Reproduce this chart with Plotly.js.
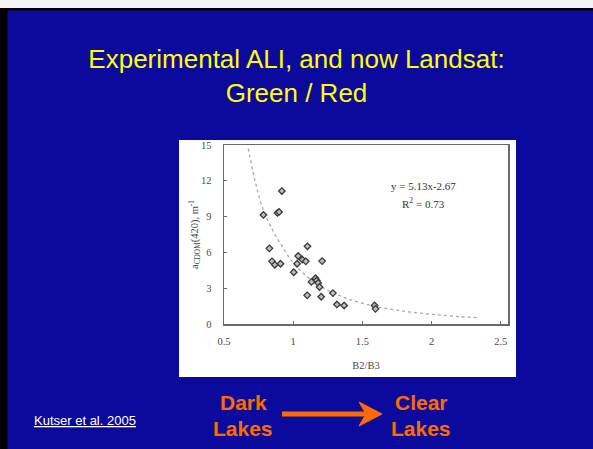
<!DOCTYPE html>
<html>
<head>
<meta charset="utf-8">
<script src="https://cdn.plot.ly/plotly-3.0.1.min.js"></script>
<style>
html,body{margin:0;padding:0;background:#0c0a9c;}
#chart{width:593px;height:449px;}
</style>
</head>
<body>
<div id="chart"></div>
<script>
// Measured data (B2/B3 ratio vs aCDOM(420))
const ratioB2B3 = [0.785, 0.918, 0.886, 0.898, 0.828, 0.847, 0.867, 0.908, 1.004, 1.028, 1.036, 1.067, 1.091, 1.103, 1.209, 1.101, 1.132, 1.161, 1.170, 1.180, 1.190, 1.202, 1.287, 1.316, 1.368, 1.588, 1.595];
const aCDOM = [9.14, 11.14, 9.31, 9.39, 6.34, 5.25, 4.96, 5.05, 4.34, 5.05, 5.70, 5.39, 5.25, 6.51, 5.27, 2.40, 3.53, 3.84, 3.65, 3.44, 3.10, 2.28, 2.59, 1.64, 1.55, 1.55, 1.27];
// Trend curve
const trendX = [0.675, 0.72, 0.78, 0.85, 0.92, 1.0, 1.1, 1.2, 1.3, 1.4, 1.6, 1.8, 2.0, 2.2, 2.33];
const trendY = [14.7, 12.2, 9.7, 7.9, 6.5, 5.13, 3.98, 3.15, 2.55, 2.09, 1.46, 1.07, 0.81, 0.62, 0.54];
const xTicks = [0.5, 1, 1.5, 2, 2.5];
const yTicks = [0, 3, 6, 9, 12, 15];

const W = 593, H = 449;
const L = 224, R = 85, T = 145, B = 125;
const pw = W - L - R, ph = H - T - B;
const X = px => (px - L) / pw;
const Y = py => (H - B - py) / ph;
const orange = '#ff6a00';

const traces = [
  {
    x: trendX, y: trendY, type: 'scatter', mode: 'lines',
    line: {color: '#a8a8a8', width: 1.3, dash: 'dot', shape: 'spline'},
    hoverinfo: 'skip', showlegend: false
  },
  {
    x: ratioB2B3, y: aCDOM, type: 'scatter', mode: 'markers',
    marker: {symbol: 'diamond', size: 5, color: '#bdbdbd', line: {color: '#3a3a3a', width: 1.3}},
    showlegend: false
  }
];

const serif = 'Liberation Serif, Times New Roman, serif';
const sans = 'Liberation Sans, Arial, sans-serif';

function note(text, px, py, font) {
  return {text: text, xref: 'paper', yref: 'paper', x: X(px), y: Y(py),
          xanchor: 'center', yanchor: 'middle', showarrow: false, font: font};
}

const eqFont = {family: serif, size: 11, color: '#333'};
const bigFont = {family: sans, size: 21, color: orange};

const layout = {
  width: W, height: H,
  margin: {l: L, r: R, t: T, b: B, pad: 0},
  paper_bgcolor: '#0c0a9c',
  plot_bgcolor: '#ffffff',
  title: {
    text: 'Experimental ALI, and now Landsat:<br>Green / Red',
    font: {family: sans, size: 26, color: '#ffff00'},
    x: 0.5, xanchor: 'center', xref: 'container',
    y: 1 - 68 / H, yanchor: 'middle', yref: 'container'
  },
  xaxis: {
    range: [0.5, 0.5 + pw / 138.4], tickvals: xTicks, ticktext: xTicks.map(String),
    showgrid: false, zeroline: false, showline: true, mirror: true,
    linecolor: '#6a6a6a', linewidth: 1.5,
    ticks: 'inside', ticklen: 3, tickcolor: '#6a6a6a',
    tickfont: {family: serif, size: 10.5, color: '#4a4a4a'},
    ticklabelstandoff: 7,
    title: {text: 'B2/B3', font: {family: serif, size: 10.5, color: '#4a4a4a'}, standoff: 15}
  },
  yaxis: {
    range: [0, 15], tickvals: yTicks,
    showgrid: false, zeroline: false, showline: true, mirror: true,
    linecolor: '#6a6a6a', linewidth: 1.5,
    ticks: 'inside', ticklen: 3, tickcolor: '#6a6a6a',
    tickfont: {family: serif, size: 10.5, color: '#4a4a4a'},
    ticklabelstandoff: 9,
    title: {text: 'a<sub>CDOM</sub>(420), m<sup>-1</sup>', font: {family: serif, size: 10.5, color: '#4a4a4a'}, standoff: 0}
  },
  shapes: [
    // white picture behind the chart
    {type: 'rect', xref: 'paper', yref: 'paper', layer: 'below',
     x0: X(179), x1: X(516), y0: Y(377), y1: Y(140), fillcolor: '#ffffff', line: {width: 0}},
    // slide frame edges
    {type: 'rect', xref: 'paper', yref: 'paper', layer: 'below',
     x0: X(0), x1: X(W), y0: Y(8), y1: Y(0), fillcolor: '#f4f4f4', line: {width: 0}},
    {type: 'rect', xref: 'paper', yref: 'paper', layer: 'below',
     x0: X(0), x1: X(W), y0: Y(10.5), y1: Y(8), fillcolor: '#000000', line: {width: 0}},
    {type: 'rect', xref: 'paper', yref: 'paper', layer: 'below',
     x0: X(0), x1: X(7.5), y0: Y(H), y1: Y(8), fillcolor: '#000000', line: {width: 0}},
    // arrow
    {type: 'line', xref: 'paper', yref: 'paper',
     x0: X(282), x1: X(366), y0: Y(414), y1: Y(414), line: {color: orange, width: 5}},
    {type: 'path', xref: 'paper', yref: 'paper',
     path: 'M' + X(359) + ',' + Y(402) + ' L' + X(382) + ',' + Y(414) + ' L' + X(359) + ',' + Y(426) + ' L' + X(366) + ',' + Y(414) + ' Z',
     fillcolor: orange, line: {color: orange, width: 1}}
  ],
  annotations: [
    note('y = 5.13x-2.67', 423, 186, eqFont),
    note('R<sup>2</sup> = 0.73', 423, 203, eqFont),
    note('<u>Kutser et al. 2005</u>', 85, 420, {family: sans, size: 13, color: '#ffffff'}),
    note('<b>Dark</b>', 243, 402, bigFont),
    note('<b>Lakes</b>', 243, 428, bigFont),
    note('<b>Clear</b>', 421, 402, bigFont),
    note('<b>Lakes</b>', 421, 428, bigFont)
  ]
};

Plotly.newPlot('chart', traces, layout, {displayModeBar: false, staticPlot: true});
</script>
</body>
</html>
